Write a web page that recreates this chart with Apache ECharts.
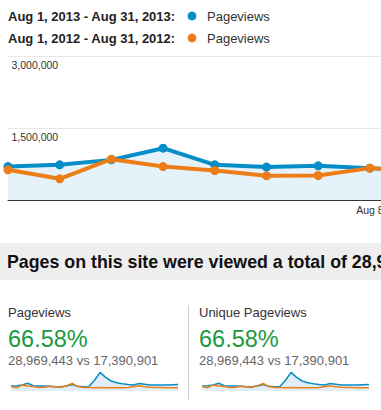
<!DOCTYPE html>
<html><head><meta charset="utf-8">
<script src="https://cdn.jsdelivr.net/npm/echarts@6/dist/echarts.min.js"></script>
<style>html,body{margin:0;padding:0;background:#fff;overflow:hidden}#c{width:381px;height:410px}</style>
</head><body><div id="c"></div>
<script>
// ---- data ----
const days = [1,2,3,4,5,6,7,8,9,10,11,12,13,14,15,16,17,18,19,20,21,22,23,24,25,26,27,28,29,30,31];
const dayLabels = days.map(d => 'Aug ' + d);
const pageviews2013 = [697000,732000,836000,1079000,732000,685000,712000,664000,600000,600000,700000,900000,650000,600000,620000,1500000,2600000,1900000,1400000,1150000,1000000,900000,850000,1050000,950000,850000,850000,850000,850000,880000,900000];
const pageviews2012 = [629000,442000,851000,697000,614000,504000,510000,664000,600000,520000,750000,1050000,620000,500000,480000,470000,480000,460000,450000,460000,470000,480000,600000,720000,600000,520000,500000,480000,470000,460000,450000];
const yTicks = [0, 1500000, 3000000];
const legendRanges = ['Aug 1, 2013 - Aug 31, 2013:', 'Aug 1, 2012 - Aug 31, 2012:'];
const metricName = 'Pageviews';
const panelTitles = ['Pageviews', 'Unique Pageviews'];
const panelChange = '66.58%';
const panelCompare = '28,969,443 vs 17,390,901';
const summaryText = 'Pages on this site were viewed a total of 28,969,443 times';

const BLUE = '#058dc7', ORANGE = '#ed7e17';
const FONT = '"Liberation Sans", Arial, Helvetica, sans-serif';

const pts = arr => days.map((d, i) => [d, arr[i]]);

const chart = echarts.init(document.getElementById('c'), null, {renderer: 'svg'});

const sparkSeries = [];
[1, 2].forEach(g => {
  sparkSeries.push({
    type: 'line', xAxisIndex: g, yAxisIndex: g, data: pts(pageviews2013),
    showSymbol: false, lineStyle: {color: BLUE, width: 1.5}, itemStyle: {color: BLUE},
    areaStyle: {color: '#e1eef9', opacity: 1}, z: 2, silent: true
  });
  sparkSeries.push({
    type: 'line', xAxisIndex: g, yAxisIndex: g, data: pts(pageviews2012),
    showSymbol: false, lineStyle: {color: ORANGE, width: 1.5}, itemStyle: {color: ORANGE}, z: 3, silent: true
  });
});

const graphics = [];
legendRanges.forEach((t, i) => {
  const cy = i === 0 ? 16.5 : 38.5;
  graphics.push({type: 'text', x: 8, y: cy, style: {text: t, font: 'bold 13px ' + FONT, fill: '#222', verticalAlign: 'middle'}});
  graphics.push({type: 'circle', shape: {cx: 192, cy: cy - 0.5, r: 4.4}, style: {fill: i === 0 ? BLUE : ORANGE}});
  graphics.push({type: 'text', x: 207, y: cy, style: {text: metricName, font: '13px ' + FONT, fill: '#333', verticalAlign: 'middle'}});
});
graphics.push({type: 'rect', shape: {x: 0, y: 243, width: 381, height: 37}, style: {fill: '#eeeeee'}});
graphics.push({type: 'text', x: 7, y: 261.5, style: {text: summaryText, font: 'bold 17.8px ' + FONT, fill: '#111', verticalAlign: 'middle'}});
panelTitles.forEach((t, i) => {
  const x0 = 8 + i * 191;
  graphics.push({type: 'text', x: x0, y: 312.5, style: {text: t, font: '13px ' + FONT, fill: '#333', verticalAlign: 'middle'}});
  graphics.push({type: 'text', x: x0, y: 339, style: {text: panelChange, font: '23.5px ' + FONT, fill: '#1a9a3e', verticalAlign: 'middle'}});
  graphics.push({type: 'text', x: x0, y: 360, style: {text: panelCompare, font: '13px ' + FONT, fill: '#666', verticalAlign: 'middle'}});
});
graphics.push({type: 'line', shape: {x1: 188.5, y1: 305, x2: 188.5, y2: 400}, style: {stroke: '#d0d0d0', lineWidth: 1}});

chart.setOption({
  animation: false,
  backgroundColor: '#fff',
  textStyle: {fontFamily: FONT},
  grid: [
    {left: 8, right: 0, top: 56, height: 144, containLabel: false, outerBoundsMode: 'none'},
    {left: 11, width: 167, top: 371, height: 20, containLabel: false, outerBoundsMode: 'none'},
    {left: 202, width: 167, top: 371, height: 20, containLabel: false, outerBoundsMode: 'none'}
  ],
  xAxis: [
    {gridIndex: 0, type: 'value', min: 1, max: 1 + 373 / 51.7, interval: 7,
     axisLine: {show: true, lineStyle: {color: '#333', width: 1}}, axisTick: {show: false}, splitLine: {show: false},
     axisLabel: {showMinLabel: false, hideOverlap: false, margin: 4, fontSize: 10.5, color: '#333',
       formatter: v => (Number.isInteger(v) && v > 1 && (v - 1) % 7 === 0) ? dayLabels[v - 1] : ''}},
    {gridIndex: 1, type: 'value', min: 1, max: 31, show: false},
    {gridIndex: 2, type: 'value', min: 1, max: 31, show: false}
  ],
  yAxis: [
    {gridIndex: 0, type: 'value', min: yTicks[0], max: yTicks[2], interval: yTicks[1] - yTicks[0],
     axisLine: {show: false}, axisTick: {show: false},
     splitLine: {show: true, lineStyle: {color: '#e6e6e6', width: 1}},
     axisLabel: {inside: true, margin: 3.5, align: 'left', verticalAlign: 'top', padding: [3, 0, 0, 0],
       fontSize: 10.5, color: '#333', formatter: v => v === 0 ? '' : v.toLocaleString('en-US')}},
    {gridIndex: 1, type: 'value', min: 0, max: 2800000, show: false},
    {gridIndex: 2, type: 'value', min: 0, max: 2800000, show: false}
  ],
  series: [
    {type: 'line', name: 'Pageviews 2013', xAxisIndex: 0, yAxisIndex: 0, data: pts(pageviews2013),
     symbol: 'circle', symbolSize: 9, showSymbol: true, clip: true,
     lineStyle: {color: BLUE, width: 4}, itemStyle: {color: BLUE},
     areaStyle: {color: '#e6f2fa', opacity: 1}, z: 2, silent: true},
    {type: 'line', name: 'Pageviews 2012', xAxisIndex: 0, yAxisIndex: 0, data: pts(pageviews2012),
     symbol: 'circle', symbolSize: 9, showSymbol: true, clip: true,
     lineStyle: {color: ORANGE, width: 4}, itemStyle: {color: ORANGE}, z: 3, silent: true}
  ].concat(sparkSeries),
  graphic: graphics
});
</script></body></html>
